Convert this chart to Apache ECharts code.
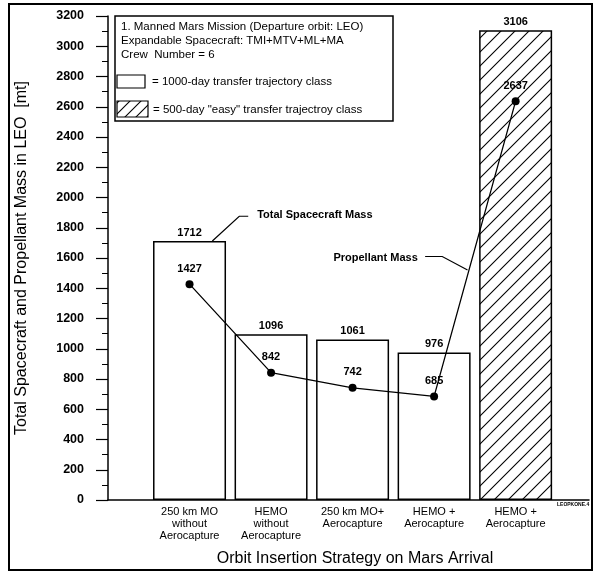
<!DOCTYPE html>
<html><head><meta charset="utf-8">
<script src="https://cdn.jsdelivr.net/npm/echarts@6/dist/echarts.min.js"></script>
<style>html,body{margin:0;padding:0;background:#fff}#c{width:595px;height:572px}</style>
</head><body><div id="c"></div>
<script>
// ---- data ----
const categories = [
  '250 km MO\nwithout\nAerocapture',
  'HEMO\nwithout\nAerocapture',
  '250 km MO+\nAerocapture',
  'HEMO +\nAerocapture',
  'HEMO +\nAerocapture'
];
const categoryPositions = [1, 2, 3, 4, 5];
const totalSpacecraftMass = [1712, 1096, 1061, 976, 3106];
const propellantMass = [1427, 842, 742, 685, 2637];
const trajectoryClass = ['1000-day', '1000-day', '1000-day', '1000-day', '500-day'];
const yMin = 0, yMax = 3200, yInterval = 200;
const yAxisTitle = 'Total Spacecraft and Propellant Mass in LEO  [mt]';
const xAxisTitle = 'Orbit Insertion Strategy on Mars Arrival';
const infoLines = [
  '1. Manned Mars Mission (Departure orbit: LEO)',
  'Expandable Spacecraft: TMI+MTV+ML+MA',
  'Crew  Number = 6'
];
const legendLabels = ['= 1000-day transfer trajectory class', '= 500-day "easy" transfer trajectroy class'];
const annotationTexts = ['Total Spacecraft Mass', 'Propellant Mass'];
const cornerCode = 'LEOPKONE.4';

const FONT = '"Liberation Sans", Arial, Helvetica, sans-serif';

function makeHatch(size) {
  const c = document.createElement('canvas');
  c.width = c.height = size;
  const g = c.getContext('2d');
  g.fillStyle = '#fff'; g.fillRect(0, 0, size, size);
  g.strokeStyle = '#000'; g.lineWidth = 1.1;
  g.beginPath();
  g.moveTo(-1, size + 1); g.lineTo(size + 1, -1);
  g.moveTo(-2, 2); g.lineTo(2, -2);
  g.moveTo(size - 2, size + 2); g.lineTo(size + 2, size - 2);
  g.stroke();
  return c;
}
const hatch = { image: makeHatch(14), repeat: 'repeat' };
const hatchSmall = { image: makeHatch(11), repeat: 'repeat' };

const chart = echarts.init(document.getElementById('c'), null, { renderer: 'canvas' });

const barData = totalSpacecraftMass.map((v, i) => ({
  value: [categoryPositions[i], v],
  itemStyle: trajectoryClass[i] === '500-day' ? { color: hatch } : { color: '#fff' }
}));
const lineData = propellantMass.map((v, i) => [categoryPositions[i], v]);

const numLabel = { show: true, position: 'top', color: '#000', fontSize: 11, fontWeight: 'bold', fontFamily: FONT };

chart.setOption({
  animation: false,
  backgroundColor: '#fff',
  grid: { left: 108, right: 6, top: 16, bottom: 70 },
  xAxis: {
    type: 'value', min: 0, max: 5.9, interval: 1,
    axisLine: { show: true, lineStyle: { color: '#000', width: 1.5 } },
    axisTick: { show: false },
    splitLine: { show: false },
    axisLabel: {
      show: true, margin: 6, color: '#000', fontSize: 11, fontFamily: FONT, lineHeight: 12,
      showMaxLabel: false, showMinLabel: false,
      formatter: v => {
        const i = categoryPositions.indexOf(v);
        return i >= 0 ? categories[i] : '';
      }
    },
    name: xAxisTitle, nameLocation: 'middle', nameGap: 51,
    nameTextStyle: { color: '#000', fontSize: 16, fontFamily: FONT, padding: [0, 0, 0, 13] }
  },
  yAxis: {
    type: 'value', min: yMin, max: yMax, interval: yInterval,
    axisLine: { show: true, lineStyle: { color: '#000', width: 1.5 } },
    axisTick: { show: true, length: 12, lineStyle: { color: '#000', width: 1.2 } },
    minorTick: { show: true, splitNumber: 2, length: 6, lineStyle: { color: '#000', width: 1 } },
    splitLine: { show: false },
    axisLabel: { color: '#000', fontSize: 12.5, fontWeight: 'bold', fontFamily: FONT, margin: 24, formatter: v => String(v) },
    name: yAxisTitle, nameLocation: 'middle', nameGap: 78,
    nameTextStyle: { color: '#000', fontSize: 16, fontFamily: FONT }
  },
  series: [
    {
      type: 'bar', data: barData, barWidth: 73,
      itemStyle: { borderColor: '#000', borderWidth: 1.5 },
      label: Object.assign({}, numLabel, { distance: 3, formatter: p => p.value[1] }),
      z: 2
    },
    {
      type: 'line', data: lineData, symbol: 'circle', symbolSize: 8,
      itemStyle: { color: '#000' },
      lineStyle: { color: '#000', width: 1.3 },
      label: Object.assign({}, numLabel, { distance: 6, formatter: p => p.value[1] }),
      z: 5
    }
  ]
});

// annotations anchored in data coordinates
const annotations = [
  { text: annotationTexts[0], path: [[1.28, 1712], [1.61, 1876], [1.72, 1876]], textAt: [1.83, 1885], align: 'left' },
  { text: annotationTexts[1], path: [[3.89, 1610], [4.10, 1610], [4.41, 1521]], textAt: [3.80, 1600], align: 'right' }
];
const px = p => chart.convertToPixel({ gridIndex: 0 }, p);
const graphics = [];
annotations.forEach(a => {
  graphics.push({ type: 'polyline', shape: { points: a.path.map(px) }, style: { stroke: '#000', lineWidth: 1.2, fill: null }, z: 10 });
  const t = px(a.textAt);
  graphics.push({ type: 'text', x: t[0], y: t[1], style: { text: a.text, fill: '#000', font: 'bold 11px ' + FONT, textAlign: a.align, textVerticalAlign: 'middle' }, z: 10 });
});
// info / legend box
graphics.push({ type: 'rect', shape: { x: 115, y: 16, width: 278, height: 105 }, style: { fill: '#fff', stroke: '#000', lineWidth: 1.5 }, z: 8 });
infoLines.forEach((s, i) => {
  graphics.push({ type: 'text', x: 121, y: 27 + i * 14, style: { text: s, fill: '#000', font: '11.5px ' + FONT, textVerticalAlign: 'middle' }, z: 9 });
});
graphics.push({ type: 'rect', shape: { x: 117, y: 75, width: 28, height: 13 }, style: { fill: '#fff', stroke: '#000', lineWidth: 1.2 }, z: 9 });
graphics.push({ type: 'text', x: 152, y: 82, style: { text: legendLabels[0], fill: '#000', font: '11.5px ' + FONT, textVerticalAlign: 'middle' }, z: 9 });
graphics.push({ type: 'rect', shape: { x: 117, y: 101, width: 31, height: 16 }, style: { fill: hatchSmall, stroke: '#000', lineWidth: 1.2 }, z: 9 });
graphics.push({ type: 'text', x: 153, y: 110, style: { text: legendLabels[1], fill: '#000', font: '11.5px ' + FONT, textVerticalAlign: 'middle' }, z: 9 });
// corner code
graphics.push({ type: 'text', x: 557, y: 505, style: { text: cornerCode, fill: '#000', font: 'bold 5px ' + FONT, textVerticalAlign: 'middle' }, z: 9 });
// outer frame
graphics.push({ type: 'rect', shape: { x: 9, y: 4, width: 583, height: 566 }, style: { fill: null, stroke: '#000', lineWidth: 2 }, z: 1, silent: true });
chart.setOption({ graphic: graphics });
</script>
</body></html>
